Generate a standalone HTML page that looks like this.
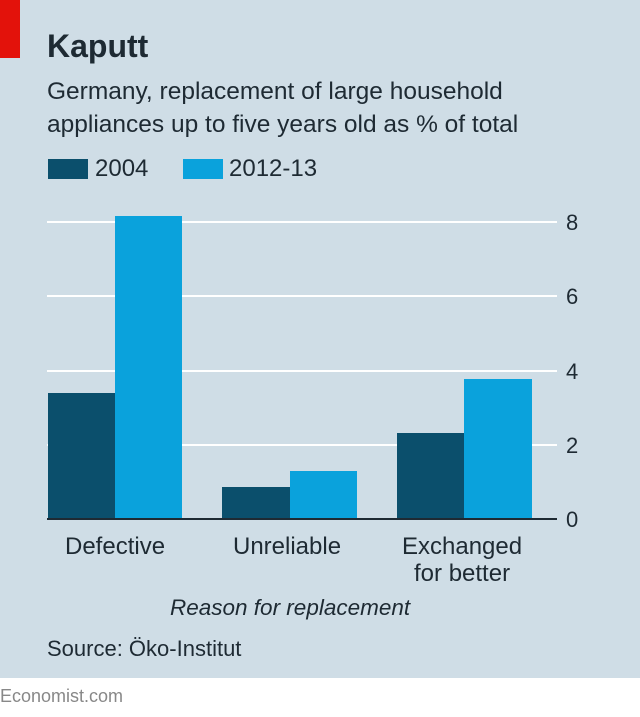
<!DOCTYPE html><html><head><style>
body{margin:0;width:640px;height:717px;background:#fff;font-family:"Liberation Sans",sans-serif;overflow:hidden}
.p{position:absolute;left:0;top:0;width:640px;height:678px;background:#cfdde6}
.t{position:absolute;white-space:nowrap;color:#1e2a33}
</style></head><body>
<div class="p"></div>
<div style="position:absolute;left:0;top:0;width:20px;height:58px;background:#e3120b"></div>
<div class="t" style="left:47px;top:28px;font-size:32px;font-weight:bold">Kaputt</div>
<div class="t" style="left:47px;top:75px;font-size:24.5px;line-height:33px">Germany, replacement of large household<br>appliances up to five years old as % of total</div>
<div style="position:absolute;left:48px;top:159px;width:40px;height:20px;background:#0b4f6c"></div>
<div class="t" style="left:95px;top:155px;font-size:24px">2004</div>
<div style="position:absolute;left:183px;top:159px;width:40px;height:20px;background:#0aa2dc"></div>
<div class="t" style="left:229px;top:155px;font-size:24px">2012-13</div>
<svg style="position:absolute;left:0;top:0" width="640" height="678">
<g stroke="#fff" stroke-width="2">
<line x1="47" x2="557" y1="222" y2="222"/><line x1="47" x2="557" y1="296" y2="296"/><line x1="47" x2="557" y1="371" y2="371"/><line x1="47" x2="557" y1="445" y2="445"/></g>
<g fill="#0b4f6c"><rect x="48" y="393" width="67" height="126"/><rect x="222" y="487" width="68" height="32"/><rect x="397" y="433" width="67" height="86"/></g>
<g fill="#0aa2dc"><rect x="115" y="216" width="67" height="303"/><rect x="290" y="471" width="67" height="48"/><rect x="464" y="379" width="68" height="140"/></g>
<line x1="47" x2="557" y1="519" y2="519" stroke="#1e2a33" stroke-width="2"/>
<g font-size="22" fill="#1e2a33" font-family="Liberation Sans"><text x="566" y="230">8</text><text x="566" y="304">6</text><text x="566" y="379">4</text><text x="566" y="453">2</text><text x="566" y="527">0</text></g>
</svg>
<div class="t" style="left:65px;top:533px;font-size:24px">Defective</div>
<div class="t" style="left:233px;top:533px;font-size:24px">Unreliable</div>
<div class="t" style="left:402px;top:533px;font-size:24px;text-align:center;line-height:27px">Exchanged<br>for better</div>
<div class="t" style="left:170px;top:595px;font-size:22.5px;font-style:italic">Reason for replacement</div>
<div class="t" style="left:47px;top:636px;font-size:22px">Source: Öko-Institut</div>
<div class="t" style="left:0;top:686px;font-size:18px;color:#888">Economist.com</div>
</body></html>
